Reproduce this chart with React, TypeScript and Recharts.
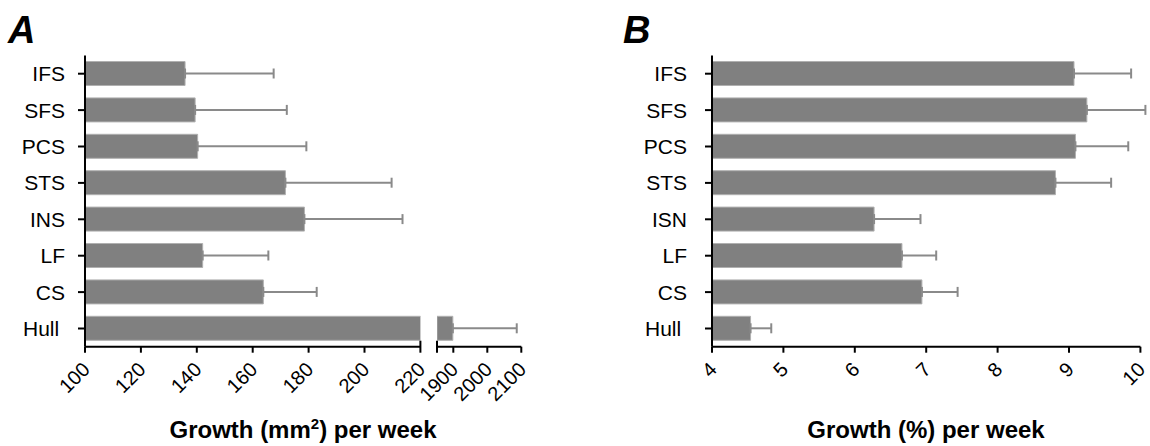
import { BarChart, Bar, XAxis, YAxis, ErrorBar } from 'recharts'

// panel A: growth in mm² per week (broken axis)
const categoriesA = ['IFS', 'SFS', 'PCS', 'STS', 'INS', 'LF', 'CS', 'Hull ']
const growthA = [135.8, 139.4, 140.3, 171.7, 178.5, 142.1, 163.8, 1898.6]
const errorA = [31.7, 32.8, 38.9, 38.0, 35.1, 23.5, 19.1, 188]
const ticksALow = [100, 120, 140, 160, 180, 200, 220]
const ticksAHigh = [1900, 2000, 2100]
const breakLow = 220
const breakHigh = 1852

// panel B: growth in % per week
const categoriesB = ['IFS', 'SFS', 'PCS', 'STS', 'ISN', 'LF', 'CS', 'Hull ']
const growthB = [9.07, 9.25, 9.09, 8.81, 6.27, 6.66, 6.94, 4.54]
const errorB = [0.8, 0.82, 0.74, 0.78, 0.65, 0.48, 0.5, 0.29]
const ticksB = [4, 5, 6, 7, 8, 9, 10]

const FONT = '"Liberation Sans", Arial, sans-serif'
const BAR = '#808080'
const ERR = '#8a8a8a'

const lowData = categoriesA.map((name, i) => ({
  name,
  value: growthA[i],
  err: growthA[i] <= breakLow ? [0, errorA[i]] : null,
}))
const highData = categoriesA.map((name, i) => ({
  name,
  value: growthA[i] > breakLow ? growthA[i] : null,
  err: growthA[i] > breakLow ? [0, errorA[i]] : null,
}))
const dataB = categoriesB.map((name, i) => ({ name, value: growthB[i], err: [0, errorB[i]] }))

function YTick({ x, y, payload }: any) {
  return (
    <text
      x={x}
      y={y}
      dy="0.36em"
      textAnchor="end"
      fontSize={21}
      fill="#000"
      xmlSpace="preserve"
      style={{ whiteSpace: 'pre' }}
    >
      {payload.value}
    </text>
  )
}

function XTick({ x, y, payload, marks = [], labels }: any) {
  const v = payload.value
  const isBreak = marks.includes(v)
  const showLabel = labels.includes(v)
  return (
    <g>
      <line x1={x} x2={x} y1={isBreak ? y - 6 : y} y2={y + 6} stroke="#000" strokeWidth={2} />
      {showLabel && (
        <text
          transform={`translate(${x + 6}, ${y + 24}) rotate(-45)`}
          textAnchor="end"
          fontSize={20}
          fill="#000"
        >
          {v}
        </text>
      )}
    </g>
  )
}

const axisStyle = { stroke: '#000', strokeWidth: 2 }
const margin = { top: 55.5, bottom: 9.3 }

export default function App() {
  return (
    <div
      style={{
        position: 'absolute',
        left: 0,
        top: 0,
        width: 1150,
        height: 446,
        background: '#fff',
        fontFamily: FONT,
        overflow: 'hidden',
      }}
    >
      {/* A, lower segment */}
      <div style={{ position: 'absolute', left: 0, top: 0 }}>
        <BarChart width={432} height={446} data={lowData} layout="vertical" margin={{ ...margin, left: 0, right: 11.6 }}>
          <XAxis
            type="number"
            domain={[100, breakLow]}
            ticks={ticksALow}
            allowDataOverflow
            interval={0}
            height={90}
            axisLine={axisStyle}
            tickLine={false}
            tickSize={0}
            tickMargin={0}
            tick={(p: any) => <XTick {...p} marks={[breakLow]} labels={ticksALow} />}
          />
          <YAxis
            type="category"
            dataKey="name"
            width={85}
            axisLine={axisStyle}
            tickLine={axisStyle}
            tickSize={7}
            tickMargin={13}
            interval={0}
            tick={<YTick />}
          />
          <Bar dataKey="value" fill={BAR} stroke="#b0b0b0" strokeWidth={1} barSize={24} isAnimationActive={false}>
            <ErrorBar dataKey="err" direction="x" width={5} stroke={ERR} strokeWidth={2} isAnimationActive={false} />
          </Bar>
        </BarChart>
      </div>

      {/* A, upper segment */}
      <div style={{ position: 'absolute', left: 400, top: 0 }}>
        <BarChart width={140} height={446} data={highData} layout="vertical" margin={{ ...margin, left: 37, right: 18.7 }}>
          <XAxis
            type="number"
            domain={[breakHigh, 2100]}
            ticks={[breakHigh, ...ticksAHigh]}
            allowDataOverflow
            interval={0}
            height={90}
            axisLine={axisStyle}
            tickLine={false}
            tickSize={0}
            tickMargin={0}
            tick={(p: any) => <XTick {...p} marks={[breakHigh]} labels={ticksAHigh} />}
          />
          <YAxis type="category" dataKey="name" hide />
          <Bar dataKey="value" fill={BAR} stroke="#b0b0b0" strokeWidth={1} barSize={24} isAnimationActive={false}>
            <ErrorBar dataKey="err" direction="x" width={5} stroke={ERR} strokeWidth={2} isAnimationActive={false} />
          </Bar>
        </BarChart>
      </div>

      {/* B */}
      <div style={{ position: 'absolute', left: 600, top: 0 }}>
        <BarChart width={550} height={446} data={dataB} layout="vertical" margin={{ ...margin, left: 0, right: 9.6 }}>
          <XAxis
            type="number"
            domain={[4, 10]}
            ticks={ticksB}
            allowDataOverflow
            interval={0}
            height={90}
            axisLine={axisStyle}
            tickLine={false}
            tickSize={0}
            tickMargin={0}
            tick={(p: any) => <XTick {...p} labels={ticksB} />}
          />
          <YAxis
            type="category"
            dataKey="name"
            width={112}
            axisLine={axisStyle}
            tickLine={axisStyle}
            tickSize={7}
            tickMargin={18}
            interval={0}
            tick={<YTick />}
          />
          <Bar dataKey="value" fill={BAR} stroke="#b0b0b0" strokeWidth={1} barSize={24} isAnimationActive={false}>
            <ErrorBar dataKey="err" direction="x" width={5} stroke={ERR} strokeWidth={2} isAnimationActive={false} />
          </Bar>
        </BarChart>
      </div>

      <svg
        width={1150}
        height={446}
        style={{ position: 'absolute', left: 0, top: 0, pointerEvents: 'none' }}
        fontFamily={FONT}
      >
        <text x={8} y={43} fontSize={38} fontWeight="bold" fontStyle="italic">A</text>
        <text x={623} y={43} fontSize={38} fontWeight="bold" fontStyle="italic">B</text>
        <text x={303} y={438} textAnchor="middle" fontSize={24} fontWeight="bold">
          Growth (mm<tspan fontSize={15} dy={-9}>2</tspan>
          <tspan dy={9}>) per week</tspan>
        </text>
        <text x={926} y={438} textAnchor="middle" fontSize={24} fontWeight="bold">
          Growth (%) per week
        </text>
      </svg>
    </div>
  )
}
